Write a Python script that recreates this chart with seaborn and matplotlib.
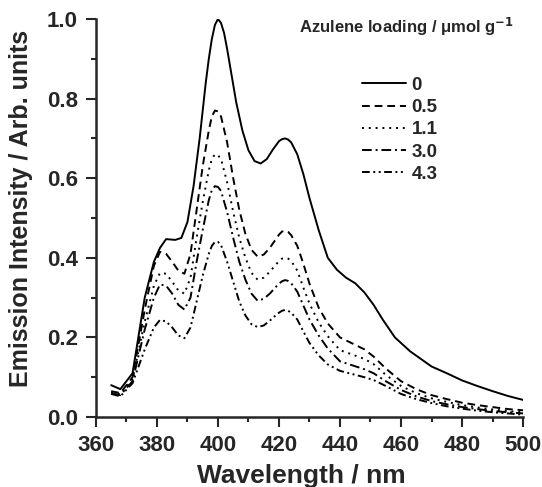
import numpy as np
import pandas as pd
import matplotlib
matplotlib.use('Agg')
import matplotlib.pyplot as plt
import seaborn as sns

# valeurs
wl_0 = [365, 368, 372, 376, 379, 381, 383, 386, 388, 390, 392, 394, 396, 397, 398, 399, 400, 401, 402, 403,
        404, 406, 408, 410, 412, 414, 416, 418, 420, 421, 422, 423, 424, 426, 428, 430, 433, 436, 439, 442,
        445, 448, 451, 454, 458, 463, 470, 475, 480, 485, 490, 495, 500]
int_0 = [0.08, 0.07, 0.11, 0.30, 0.39, 0.425, 0.447, 0.445, 0.45, 0.49, 0.58, 0.70, 0.84, 0.90, 0.95, 0.985, 1.0, 0.99, 0.965, 0.925,
         0.88, 0.79, 0.72, 0.67, 0.643, 0.637, 0.648, 0.672, 0.693, 0.698, 0.70, 0.697, 0.69, 0.66, 0.61, 0.55, 0.47, 0.40, 0.37, 0.35,
         0.336, 0.313, 0.282, 0.245, 0.20, 0.165, 0.127, 0.11, 0.092, 0.078, 0.065, 0.053, 0.043]

wl_q = [365, 368, 372, 376, 379, 381, 383, 385, 387, 389, 391, 393, 395, 397, 398, 399, 400, 401, 403, 405,
        407, 409, 411, 413, 415, 417, 419, 420, 421, 422, 423, 424, 426, 428, 430, 433, 436, 440, 444, 448,
        451, 455, 460, 465, 470, 475, 480, 485, 490, 495, 500]
int_05 = [0.065, 0.06, 0.10, 0.27, 0.38, 0.415, 0.41, 0.39, 0.368, 0.36, 0.41, 0.52, 0.63, 0.72, 0.755, 0.77, 0.768, 0.755, 0.69, 0.60,
          0.52, 0.46, 0.42, 0.403, 0.408, 0.425, 0.447, 0.458, 0.466, 0.468, 0.465, 0.457, 0.43, 0.385, 0.335, 0.275, 0.235, 0.20, 0.185, 0.17,
          0.152, 0.122, 0.09, 0.07, 0.055, 0.045, 0.036, 0.03, 0.025, 0.02, 0.017]
int_11 = [0.062, 0.057, 0.095, 0.24, 0.33, 0.362, 0.36, 0.34, 0.318, 0.31, 0.35, 0.45, 0.54, 0.62, 0.648, 0.66, 0.658, 0.648, 0.59, 0.515,
          0.45, 0.40, 0.362, 0.345, 0.35, 0.365, 0.383, 0.392, 0.398, 0.40, 0.398, 0.392, 0.368, 0.325, 0.285, 0.238, 0.203, 0.168, 0.157, 0.146,
          0.133, 0.106, 0.078, 0.06, 0.047, 0.038, 0.03, 0.024, 0.019, 0.015, 0.012]
int_30 = [0.06, 0.055, 0.09, 0.22, 0.30, 0.333, 0.33, 0.31, 0.282, 0.27, 0.30, 0.39, 0.47, 0.545, 0.57, 0.58, 0.578, 0.568, 0.515, 0.45,
          0.39, 0.345, 0.31, 0.292, 0.297, 0.31, 0.327, 0.335, 0.341, 0.344, 0.342, 0.336, 0.315, 0.28, 0.245, 0.205, 0.172, 0.14, 0.13, 0.12,
          0.11, 0.09, 0.068, 0.052, 0.04, 0.032, 0.025, 0.02, 0.015, 0.012, 0.009]
int_43 = [0.058, 0.052, 0.085, 0.17, 0.225, 0.244, 0.24, 0.225, 0.205, 0.198, 0.225, 0.29, 0.355, 0.41, 0.43, 0.44, 0.44, 0.432, 0.39, 0.34,
          0.29, 0.255, 0.233, 0.226, 0.23, 0.242, 0.256, 0.262, 0.267, 0.269, 0.267, 0.262, 0.245, 0.215, 0.186, 0.155, 0.132, 0.116, 0.108, 0.1,
          0.093, 0.078, 0.058, 0.045, 0.035, 0.027, 0.021, 0.016, 0.012, 0.009, 0.006]

loadings = ['0', '0.5', '1.1', '3.0', '4.3']

frames = [pd.DataFrame({'wl': wl_0, 'I': int_0, 'loading': '0'})]
for lab, vals in zip(loadings[1:], [int_05, int_11, int_30, int_43]):
    frames.append(pd.DataFrame({'wl': wl_q, 'I': vals, 'loading': lab}))
df = pd.concat(frames, ignore_index=True)

sns.set_style('ticks')
plt.rcParams['font.family'] = ['Liberation Sans', 'DejaVu Sans']
plt.rcParams['font.weight'] = 'bold'
plt.rcParams['mathtext.default'] = 'regular'
plt.rcParams['lines.solid_joinstyle'] = 'round'
plt.rcParams['lines.dash_joinstyle'] = 'round'

fig = plt.figure(figsize=(5.42, 4.87), dpi=100)
ax = fig.add_axes([0.177, 0.1437, 0.788, 0.8173])

dashes = {'0': '', '0.5': (4, 2.5), '1.1': (1, 2.5), '3.0': (5, 2, 1, 2), '4.3': (4, 1.8, 1, 1.8, 1, 1.8)}
sns.lineplot(data=df, x='wl', y='I', style='loading', style_order=loadings, dashes=dashes,
             color='black', linewidth=1.4, ax=ax, legend=True, sort=False)

ax.set_xlim(360, 500)
ax.set_ylim(0, 1.0)
ax.set_xticks(np.arange(360, 501, 20))
ax.set_xticks(np.arange(370, 500, 20), minor=True)
ax.set_yticks(np.arange(0, 1.01, 0.2))
ax.set_yticks(np.arange(0.1, 1.0, 0.2), minor=True)
ax.set_yticklabels(['0.0', '0.2', '0.4', '0.6', '0.8', '1.0'])
ax.tick_params(which='major', length=7, width=1.5, labelsize=16, direction='out', pad=6)
ax.tick_params(which='minor', length=3.5, width=1.5, direction='out')
for lbl in ax.get_xticklabels() + ax.get_yticklabels():
    lbl.set_fontweight('bold')
sns.despine(ax=ax)
for s in ['left', 'bottom']:
    ax.spines[s].set_linewidth(1.8)

ax.set_xlabel('Wavelength / nm', fontsize=19, fontweight='bold')
ax.set_ylabel('Emission Intensity / Arb. units', fontsize=18, fontweight='bold')
ax.xaxis.set_label_coords(0.481, -0.118)
ax.yaxis.set_label_coords(-0.148, 0.525)

ax.text(0.979, 0.98, r'Azulene loading / $\mu$mol g$^{\mathbf{-1}}$', transform=ax.transAxes,
        ha='right', va='center', fontsize=12, fontweight='bold')

leg = ax.legend(loc='upper left', bbox_to_anchor=(0.623, 0.855), frameon=False, fontsize=13.5,
                handlelength=2.35, handletextpad=0.3, labelspacing=0.275, borderpad=0, borderaxespad=0)
for t in leg.get_texts():
    t.set_fontweight('bold')

plt.savefig('out.png', dpi=100)
